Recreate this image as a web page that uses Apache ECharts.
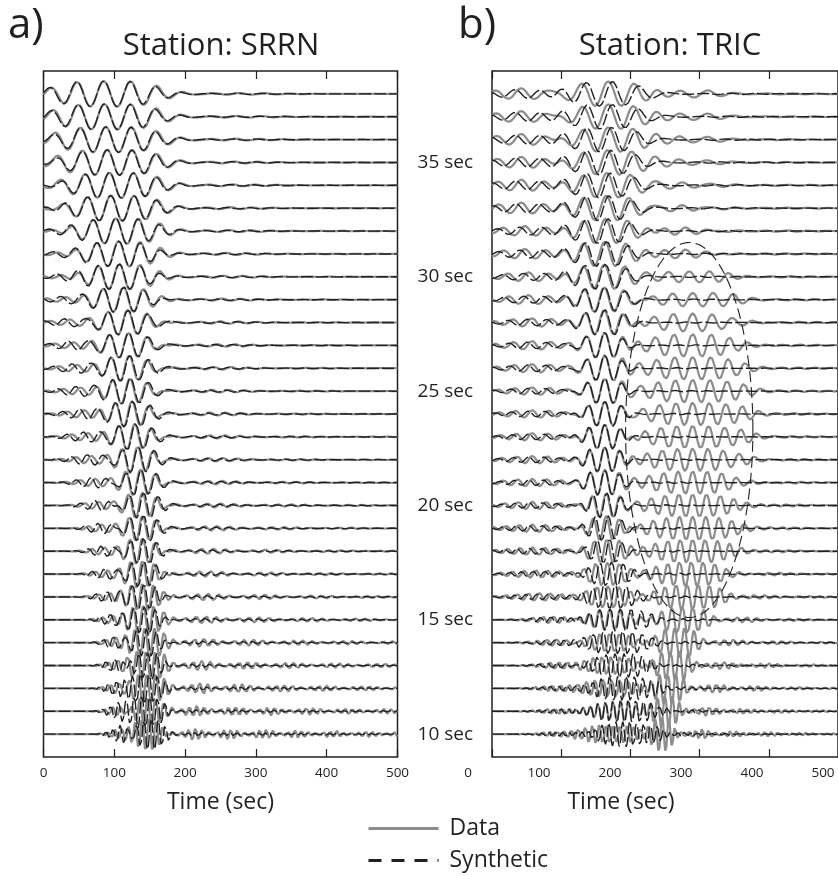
<!DOCTYPE html>
<html>
<head>
<meta charset="utf-8">
<script src="https://cdn.jsdelivr.net/npm/echarts@6/dist/echarts.min.js"></script>
<style>
html,body{margin:0;padding:0;background:#fff;}
#chart{width:838px;height:876px;}
</style>
</head>
<body>
<div id="chart"></div>
<script>
// ---------------- DATA ----------------
// Trace periods (sec), one trace per period, bottom (10) to top (38)
const periods = [10,11,12,13,14,15,16,17,18,19,20,21,22,23,24,25,26,27,28,29,30,31,32,33,34,35,36,37,38];
const periodLabels = [10,15,20,25,30,35];
const timeTicks = [0,100,200,300,400,500];

// Panel a) Station SRRN : wave-packet parameters per period (time in sec, amplitude in trace units)
const aMainCenter = [149,147,146,145,143,141,140,140,140,140,140,137,133,129,125,122,121,120,119,113,107,106,102,95,93,90,88,86,85];
const aMainWidth  = [21,21,22,22,23,24,24,24,24,25,26,27,28,30,31,33,34,36,38,42,46,48,52,56,58,60,61,62,63];
const aMainAmp    = [0.7,0.68,0.66,0.64,0.62,0.61,0.6,0.6,0.59,0.59,0.58,0.58,0.58,0.58,0.57,0.57,0.57,0.56,0.56,0.56,0.56,0.56,0.56,0.56,0.56,0.56,0.56,0.56,0.56];
const aSynLag     = [3,3,3,2.5,2.5,2,2,2,1.5,1.5,1.5,1,1,1,1,1,1,0.5,0.5,0.5,0.5,0.5,0,0,0,0,0,0,0];
const aPreCenter  = [112,110,108,106,104,100,96,92,88,84,80,75,70,65,60,55,50,45,40,35,30,25,20,20,20,20,20,20,20];
const aPreWidth   = [15,16,16,16,16,17,20,20,20,20,22,25,28,28,28,28,28,28,28,28,25,25,25,25,25,25,25,25,25];
const aPreAmpSyn  = [0.42,0.4,0.37,0.34,0.3,0.27,0.25,0.24,0.24,0.24,0.24,0.24,0.24,0.23,0.23,0.22,0.21,0.2,0.18,0.15,0.12,0.09,0.07,0.07,0.07,0.07,0.07,0.07,0.07];
const aPreAmpData = [0.26,0.25,0.24,0.22,0.2,0.18,0.17,0.17,0.17,0.17,0.17,0.17,0.17,0.17,0.17,0.16,0.15,0.14,0.13,0.11,0.09,0.07,0.06,0.06,0.06,0.06,0.06,0.06,0.06];
const aCodaAmpData= [0.3,0.29,0.27,0.25,0.23,0.21,0.2,0.18,0.17,0.16,0.15,0.14,0.14,0.14,0.14,0.14,0.14,0.14,0.14,0.14,0.14,0.15,0.15,0.15,0.15,0.15,0.15,0.15,0.15];
const aCodaAmpSyn = [0.09,0.09,0.09,0.09,0.09,0.09,0.09,0.1,0.1,0.1,0.11,0.11,0.12,0.12,0.12,0.12,0.13,0.13,0.13,0.13,0.14,0.14,0.14,0.14,0.14,0.14,0.14,0.14,0.14];
const aCodaDecay  = [360,340,310,280,250,220,200,180,170,160,150,140,130,120,115,110,105,100,100,95,95,90,90,90,90,90,90,90,90];

// Panel b) Station TRIC
const bMainCenterData = [175,175,173,172,170,170,168,167,166,165,165,163,163,163,163,163,163,163,162,162,162,163,164,165,166,167,168,168,168];
const bMainWidthData  = [40,40,38,36,34,32,30,28,27,26,25,26,26,27,27,28,29,30,33,37,42,44,46,48,49,50,52,53,54];
const bMainAmpData    = [0.4,0.41,0.42,0.43,0.45,0.47,0.5,0.52,0.53,0.55,0.55,0.55,0.55,0.55,0.55,0.55,0.55,0.55,0.55,0.55,0.55,0.55,0.55,0.55,0.55,0.55,0.55,0.55,0.55];
const bMainCenterSyn  = [195,193,190,187,185,182,175,170,167,165,163,160,160,160,160,160,160,160,160,160,160,162,163,164,165,166,167,167,167];
const bMainWidthSyn   = [42,42,42,42,42,40,34,29,27,26,25,26,26,26,26,26,26,26,32,38,42,44,46,48,49,50,52,53,54];
const bMainAmpSyn     = [0.55,0.54,0.54,0.54,0.54,0.54,0.55,0.55,0.55,0.55,0.55,0.55,0.55,0.55,0.55,0.55,0.55,0.55,0.55,0.55,0.55,0.55,0.55,0.55,0.55,0.55,0.55,0.55,0.55];
const bSynLag         = [4,4,4,4,4,4,3,3,3,3,3,3,3,3,3,3,3,3,3,3,4,4,5,5,6,6,6,7,7];
const bLateCenter     = [246,250,254,258,264,275,282,288,290,290,290,290,290,290,290,290,290,290,290,290,285,280,280,275,275,270,270,270,270];
const bLateWidth      = [16,18,20,23,26,30,42,52,58,62,64,64,64,64,64,64,64,64,60,55,50,45,45,45,45,45,45,45,45];
const bLateAmp        = [0.72,0.7,0.68,0.66,0.64,0.62,0.58,0.55,0.52,0.52,0.5,0.5,0.5,0.5,0.5,0.5,0.5,0.5,0.4,0.3,0.24,0.2,0.17,0.15,0.15,0.15,0.15,0.15,0.15];
const bPreCenter      = [105,103,100,98,95,90,70,65,60,60,60,60,60,60,60,60,60,60,60,55,55,50,50,45,45,45,45,45,45];
const bPreWidth       = [30,30,30,30,30,30,40,40,40,40,40,40,40,40,40,40,40,40,40,40,40,40,40,40,40,40,40,40,40];
const bPreAmpData     = [0.14,0.14,0.14,0.15,0.15,0.16,0.17,0.17,0.17,0.17,0.17,0.17,0.17,0.17,0.17,0.17,0.19,0.19,0.19,0.2,0.2,0.22,0.22,0.25,0.25,0.25,0.25,0.25,0.25];
const bPreAmpSyn      = [0.11,0.11,0.11,0.12,0.12,0.13,0.13,0.13,0.13,0.13,0.13,0.13,0.13,0.13,0.13,0.13,0.15,0.15,0.15,0.16,0.16,0.18,0.18,0.2,0.2,0.2,0.2,0.2,0.2];
const bCodaAmpData    = [0.32,0.3,0.28,0.26,0.23,0.2,0.17,0.15,0.13,0.12,0.12,0.12,0.12,0.12,0.12,0.12,0.12,0.12,0.12,0.12,0.12,0.12,0.12,0.12,0.12,0.12,0.12,0.12,0.12];
const bCodaDecayData  = [120,120,120,115,110,100,90,80,70,70,70,70,70,70,70,70,70,70,70,70,70,70,70,70,70,70,70,70,70];
const bCodaAmpSyn     = [0.14,0.13,0.12,0.12,0.11,0.1,0.09,0.09,0.08,0.08,0.07,0.07,0.07,0.07,0.07,0.07,0.07,0.07,0.07,0.08,0.09,0.1,0.11,0.11,0.11,0.11,0.11,0.11,0.11];

// Dashed ellipse annotation in panel b (centre: time, period; radii: time, period)
const ellipseCenter = [285, 23.3];
const ellipseRadii  = [92, 8.2];

// ---------------- BUILD ----------------
const FONT = "'Open Sans', 'Noto Sans', sans-serif";
const INK = '#231f20';
const GRAY = '#8c8c8c';
const TWO_PI = Math.PI * 2;
const dt = 0.5;

function packet(t, T, c, s, A, ph, p) {
  const x = Math.abs((t - c) / s);
  return A * Math.exp(-0.5 * Math.pow(x, p)) * Math.cos(TWO_PI * (t - c) / T + ph);
}
function coda(t, T, start, decay, A, ph) {
  const env = t < start ? Math.exp(-0.5 * Math.pow((t - start) / (0.8 * T), 2)) : Math.exp(-(t - start) / decay);
  return A * env * (0.65 * Math.cos(TWO_PI * (t - start) / T + ph) + 0.35 * Math.cos(TWO_PI * (t - start) / (0.83 * T) + ph + 1.3));
}

const series = [];
function addLine(name, data, xi, yi, isData) {
  const color = isData ? GRAY : INK;
  series.push({
    type: 'line', name: name, data: data, xAxisIndex: xi, yAxisIndex: yi,
    symbol: 'none', showSymbol: false, silent: true, clip: true, animation: false,
    z: isData ? 2 : 3,
    itemStyle: { color: color },
    lineStyle: isData ? { color: color, width: 2.2 } : { color: color, width: 1.4, type: [12, 3] }
  });
}

periods.forEach((T, i) => {
  const aD = [], aS = [], bD = [], bS = [];
  for (let k = 0; k <= 1000; k++) {
    const t = k * dt;
    // panel a
    const yd = packet(t, T, aMainCenter[i], aMainWidth[i], aMainAmp[i], 0, 3)
           + packet(t, T, aPreCenter[i], aPreWidth[i], aPreAmpData[i], 0.6, 2)
           + coda(t, T, aMainCenter[i] + 1.3 * aMainWidth[i], aCodaDecay[i], aCodaAmpData[i], 1.0);
    const ys = packet(t, T, aMainCenter[i], aMainWidth[i], aMainAmp[i], -TWO_PI * aSynLag[i] / T, 3)
           + packet(t, T, aPreCenter[i], aPreWidth[i], aPreAmpSyn[i], 2.4, 2)
           + coda(t, T, aMainCenter[i] + 1.3 * aMainWidth[i], aCodaDecay[i] * 0.8, aCodaAmpSyn[i], 1.8);
    aD.push([t, T + yd]);
    aS.push([t, T + ys]);
    // panel b
    const bd = packet(t, T, bMainCenterData[i], bMainWidthData[i], bMainAmpData[i], 0, 3)
           + packet(t, T, bPreCenter[i], bPreWidth[i], bPreAmpData[i], 0.5, 2)
           + packet(t, T, bLateCenter[i], bLateWidth[i], bLateAmp[i], 0, 3)
           + coda(t, T, bLateCenter[i] + 1.2 * bLateWidth[i], bCodaDecayData[i], bCodaAmpData[i], 1.0);
    const bs = packet(t, T, bMainCenterSyn[i], bMainWidthSyn[i], bMainAmpSyn[i], -TWO_PI * bSynLag[i] / T, 3)
           + packet(t, T, bPreCenter[i], bPreWidth[i], bPreAmpSyn[i], 2.0, 2)
           + coda(t, T, bMainCenterSyn[i] + 1.3 * bMainWidthSyn[i], 90, bCodaAmpSyn[i], 1.5);
    bD.push([t, T + bd]);
    bS.push([t, T + bs]);
  }
  addLine('Data', aD, 0, 0, true);
  addLine('Data', bD, 2, 1, true);
  addLine('Synthetic', aS, 0, 0, false);
  addLine('Synthetic', bS, 2, 1, false);
});

// ellipse annotation
const ell = [];
for (let k = 0; k <= 360; k += 2) {
  const a = k * Math.PI / 180;
  ell.push([ellipseCenter[0] + ellipseRadii[0] * Math.cos(a), ellipseCenter[1] + ellipseRadii[1] * Math.sin(a)]);
}
series.push({
  type: 'line', name: 'annotation', data: ell, xAxisIndex: 2, yAxisIndex: 1,
  symbol: 'none', showSymbol: false, silent: true, clip: true, z: 4,
  itemStyle: { color: INK },
  lineStyle: { color: INK, width: 1.1, type: [11, 5] }
});

const tickStyle = { inside: true, length: 8, lineStyle: { color: INK, width: 1.2 } };
const frameGrid = { show: true, borderColor: INK, borderWidth: 1.5, backgroundColor: 'transparent' };

const option = {
  animation: false,
  backgroundColor: '#fff',
  grid: [
    Object.assign({ left: 43.5, top: 71, width: 354, height: 686 }, frameGrid),
    Object.assign({ left: 492, top: 71, width: 355, height: 686 }, frameGrid),
    { left: 468, top: 71, width: 355, height: 686, show: false }
  ],
  xAxis: [
    { gridIndex: 0, type: 'value', position: 'bottom', min: timeTicks[0], max: timeTicks[timeTicks.length - 1], interval: 100,
      axisLine: { show: false }, axisTick: tickStyle, splitLine: { show: false },
      axisLabel: { margin: 9, fontSize: 13.5, color: INK, fontFamily: FONT },
      name: 'Time (sec)', nameLocation: 'middle', nameGap: 34,
      nameTextStyle: { fontSize: 23, color: INK, fontFamily: FONT } },
    { gridIndex: 0, type: 'value', position: 'top', min: 0, max: 500, interval: 100,
      axisLine: { show: false }, axisTick: tickStyle, splitLine: { show: false }, axisLabel: { show: false } },
    { gridIndex: 1, type: 'value', position: 'bottom', min: 0, max: 500, interval: 100,
      axisLine: { show: false }, axisTick: tickStyle, splitLine: { show: false }, axisLabel: { show: false } },
    { gridIndex: 1, type: 'value', position: 'top', min: 0, max: 500, interval: 100,
      axisLine: { show: false }, axisTick: tickStyle, splitLine: { show: false }, axisLabel: { show: false } },
    { gridIndex: 2, type: 'value', position: 'bottom', min: 0, max: 500, interval: 100,
      axisLine: { show: false }, axisTick: { show: false }, splitLine: { show: false },
      axisLabel: { margin: 9, fontSize: 13.5, color: INK, fontFamily: FONT } }
  ],
  yAxis: [
    { gridIndex: 0, type: 'value', min: 9, max: 39, show: false },
    { gridIndex: 1, type: 'value', min: 9, max: 39, interval: 1,
      axisLine: { show: false }, axisTick: { show: false }, splitLine: { show: false },
      axisLabel: { margin: 19, fontSize: 19, color: INK, fontFamily: FONT,
        formatter: v => periodLabels.indexOf(v) >= 0 ? v + ' sec' : '' } },
    { gridIndex: 2, type: 'value', min: 9, max: 39, show: false }
  ],
  legend: {
    show: true, type: 'plain',
    orient: 'vertical', left: 367, top: 817, padding: 0,
    itemWidth: 70, itemHeight: 24, itemGap: 9,
    selectedMode: false,
    textStyle: { fontSize: 23, color: INK, fontFamily: FONT, padding: [0, 0, 0, 6] },
    data: [
      { name: 'Data', itemStyle: { opacity: 0 }, lineStyle: { color: GRAY, width: 3, type: 'solid' } },
      { name: 'Synthetic', itemStyle: { opacity: 0 }, lineStyle: { color: INK, width: 3, type: [13, 10] } }
    ]
  },
  graphic: [
    { type: 'text', left: 8, top: 5, style: { text: 'a)', font: "42px 'Open Sans'", fill: INK } },
    { type: 'text', left: 458, top: 5, style: { text: 'b)', font: "42px 'Open Sans'", fill: INK } },
    { type: 'text', x: 221, y: 46, style: { text: 'Station: SRRN', font: "31px 'Open Sans'", fill: INK, textAlign: 'center', textVerticalAlign: 'middle' } },
    { type: 'text', x: 670, y: 46, style: { text: 'Station: TRIC', font: "31px 'Open Sans'", fill: INK, textAlign: 'center', textVerticalAlign: 'middle' } },
    { type: 'text', x: 621, y: 802, style: { text: 'Time (sec)', font: "23px 'Open Sans'", fill: INK, textAlign: 'center', textVerticalAlign: 'middle' } }
  ],
  series: series
};

const chart = echarts.init(document.getElementById('chart'), null, { renderer: 'canvas' });
chart.setOption(option);
</script>
</body>
</html>
